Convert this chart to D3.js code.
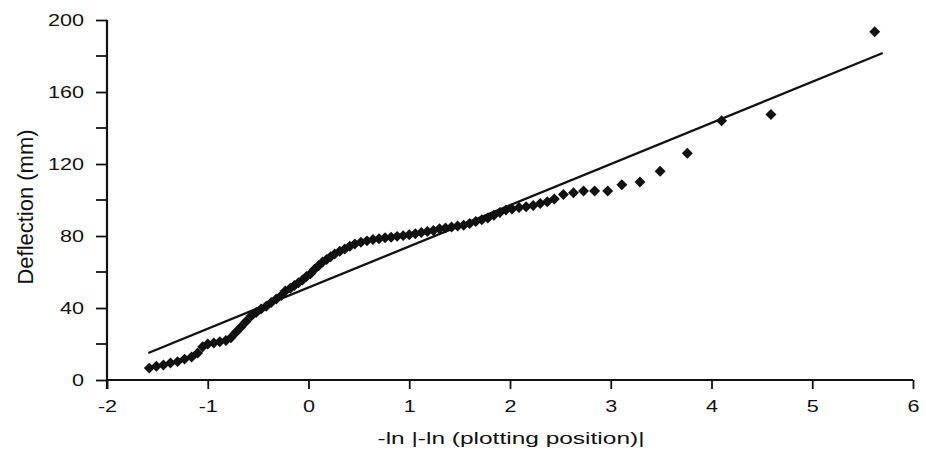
<!DOCTYPE html>
<html>
<head>
<meta charset="utf-8">
<script src="https://cdn.jsdelivr.net/npm/d3@7"></script>
<style>
  html, body { margin: 0; padding: 0; background: #fff; }
  svg { display: block; }
  text { font-family: "Liberation Sans", Arial, Helvetica, sans-serif; fill: #111; }
</style>
</head>
<body>
<svg id="chart" width="926" height="468"></svg>
<script>
// ---- data ----
const xValues = [
  -1.58, -1.51, -1.44, -1.37, -1.30, -1.23, -1.16, -1.10, -1.05, -1.00,
  -0.94, -0.88, -0.82, -0.77, -0.72, -0.67, -0.62, -0.57, -0.52, -0.47,
  -0.42, -0.37, -0.32, -0.27, -0.23, -0.18, -0.14, -0.10, -0.06, -0.02,
   0.02,  0.06,  0.10,  0.14,  0.18,  0.22,  0.26,  0.31,  0.36,  0.41,
   0.46,  0.52,  0.58,  0.64,  0.70,  0.76,  0.82,  0.88,  0.94,  1.00,
   1.06,  1.12,  1.18,  1.24,  1.30,  1.36,  1.42,  1.48,  1.54,  1.60,
   1.66,  1.72,  1.78,  1.84,  1.90,  1.96,  2.02,  2.09,  2.16,  2.23,
   2.30,  2.37,  2.44,  2.53,  2.63,  2.73,  2.84,  2.97,  3.11,  3.29,
   3.49,  3.76,  4.10,  4.59,  5.62
];
const deflection = [
    6.6,   7.6,   8.3,   9.4,  10.2,  11.6,  12.8,  15.0,  18.5,  20.0,
   20.6,  21.2,  22.0,  23.5,  26.5,  29.5,  32.5,  35.5,  37.5,  39.5,
   41.0,  43.0,  45.0,  47.0,  49.5,  51.0,  52.5,  54.0,  55.5,  57.5,
   59.0,  61.5,  63.5,  65.5,  67.0,  68.5,  70.0,  71.5,  72.8,  74.3,
   75.5,  76.5,  77.3,  78.0,  78.5,  79.0,  79.3,  79.8,  80.2,  80.7,
   81.2,  82.0,  82.5,  83.0,  84.0,  84.5,  85.0,  85.5,  86.0,  87.0,
   88.0,  89.0,  90.0,  91.5,  93.0,  94.5,  95.0,  95.8,  96.3,  97.0,
   98.0,  99.0, 100.5, 103.0, 104.0, 105.0, 105.0, 105.0, 108.5, 110.0,
  116.0, 126.0, 144.0, 147.5, 193.5
];
const fitX = [-1.59, 5.70];
const fitY = [15.0, 181.7];
const xTicks = [-2, -1, 0, 1, 2, 3, 4, 5, 6];
const yTicks = [0, 40, 80, 120, 160, 200];
const yMinorTicks = [20, 60, 100, 140, 180];
const xTitle = "-ln |-ln (plotting position)|";
const yTitle = "Deflection (mm)";

// ---- layout ----
const svg = d3.select("#chart");
const mLeft = 107, mRight = 913, mTop = 20, mBottom = 380;
const stretch = 1.35;          // scanned text is horizontally wide
const tickFont = 16;

const x = d3.scaleLinear().domain([-2, 6]).range([mLeft, mRight]);
const y = d3.scaleLinear().domain([0, 200]).range([mBottom, mTop]);
const fmt = d => String(d);    // plain hyphen minus like the original

// regression line
const fit = fitX.map((v, i) => [v, fitY[i]]);
svg.append("path")
  .datum(fit)
  .attr("d", d3.line().x(d => x(d[0])).y(d => y(d[1])))
  .attr("fill", "none")
  .attr("stroke", "#111")
  .attr("stroke-width", 2.3);

// points (diamonds)
const pts = xValues.map((v, i) => [v, deflection[i]]);
const diamond = d3.symbol().type(d3.symbolSquare).size(60);
svg.append("g").selectAll("path")
  .data(pts)
  .join("path")
  .attr("d", diamond)
  .attr("transform", d => `translate(${x(d[0])},${y(d[1])}) rotate(45)`)
  .attr("fill", "#111");

// y axis
const yTickSize = 11, yPad = 12;
const yAxis = svg.append("g")
  .attr("transform", `translate(${mLeft},0)`)
  .call(d3.axisLeft(y).tickValues(yTicks).tickSize(yTickSize).tickPadding(yPad).tickFormat(fmt));
yAxis.append("g").selectAll("line")
  .data(yMinorTicks)
  .join("line")
  .attr("x1", -yTickSize).attr("x2", 0)
  .attr("y1", d => y(d)).attr("y2", d => y(d))
  .attr("stroke", "#111").attr("stroke-width", 1.8);

// x axis
const xAxis = svg.append("g")
  .attr("transform", `translate(0,${mBottom})`)
  .call(d3.axisBottom(x).tickValues(xTicks).tickSize(9).tickPadding(12).tickFormat(fmt));

[xAxis, yAxis].forEach(g => {
  g.select(".domain").attr("stroke", "#111").attr("stroke-width", 2.2);
  g.selectAll(".tick line").attr("stroke", "#111").attr("stroke-width", 1.8);
  g.selectAll(".tick text").attr("font-size", tickFont).attr("fill", "#111")
    .style("font-family", "'Liberation Sans', Arial, sans-serif")
    .attr("transform", `scale(${stretch},1)`);
});
yAxis.selectAll(".tick text").attr("x", -(yTickSize + yPad) / stretch);
xAxis.select(".domain").attr("d", `M${mLeft},0H${mRight}`);
yAxis.select(".domain").attr("d", `M0,${mTop}V${mBottom + 9}`);

// axis titles
svg.append("text")
  .attr("x", 511)
  .attr("y", 444)
  .attr("text-anchor", "middle")
  .attr("font-size", 17)
  .attr("textLength", 267)
  .attr("lengthAdjust", "spacingAndGlyphs")
  .text(xTitle);

svg.append("text")
  .attr("transform", `translate(25,207) scale(${stretch},1) rotate(-90)`)
  .attr("text-anchor", "middle")
  .attr("dominant-baseline", "central")
  .attr("font-size", 17)
  .attr("textLength", 155)
  .attr("lengthAdjust", "spacingAndGlyphs")
  .text(yTitle);
</script>
</body>
</html>
